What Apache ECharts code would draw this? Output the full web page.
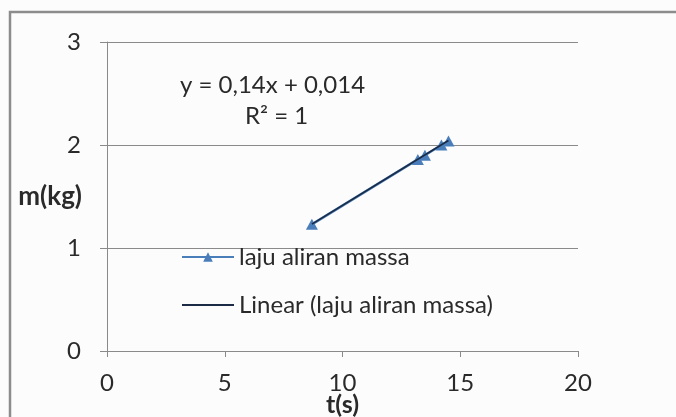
<!DOCTYPE html>
<html>
<head>
<meta charset="utf-8">
<script src="https://cdn.jsdelivr.net/npm/echarts@6/dist/echarts.min.js"></script>
<style>
  html, body { margin: 0; padding: 0; background: #fcfcfc; overflow: hidden; }
  #chart { width: 676px; height: 417px; }
</style>
</head>
<body>
<div id="chart"></div>
<script>
// Measured flow: time (s) vs accumulated mass (kg)
const timeS = [8.7, 13.2, 13.5, 14.2, 14.5];
const massKg = [1.23, 1.86, 1.90, 2.00, 2.04];

// Linear trendline coefficients as printed on the chart
const slope = 0.14;
const intercept = 0.014;

const xTicks = [0, 5, 10, 15, 20];
const yTicks = [0, 1, 2, 3];

const seriesName = 'laju aliran massa';
const trendName = 'Linear (laju aliran massa)';

const points = timeS.map((t, i) => [t, massKg[i]]);
const tStart = Math.min(...timeS);
const tEnd = Math.max(...timeS);
const trend = [tStart, tEnd].map(t => [t, slope * t + intercept]);

const font = 'Lato, "Open Sans", sans-serif';
const axisGrey = '#8a8a8a';
const frameGrey = '#8c8c8c';
const textColor = '#2a2a2a';

const chart = echarts.init(document.getElementById('chart'), null, {
  renderer: 'canvas', width: 676, height: 417
});
chart.setOption({
  backgroundColor: '#fcfcfc',
  animation: false,
  grid: { left: 107, right: 98, top: 42, bottom: 66, containLabel: false, outerBoundsMode: 'none' },
  xAxis: {
    type: 'value',
    min: xTicks[0],
    max: xTicks[xTicks.length - 1],
    interval: 5,
    name: 't(s)',
    nameLocation: 'middle',
    nameGap: 41,
    nameMoveOverlap: false,
    nameTextStyle: { fontFamily: font, fontWeight: 'bold', fontSize: 25, color: textColor, verticalAlign: 'top' },
    axisLine: { show: true, onZero: false, lineStyle: { color: axisGrey, width: 1 } },
    axisTick: { show: true, length: 6, lineStyle: { color: axisGrey } },
    axisLabel: { margin: 20, fontFamily: font, fontSize: 24, color: textColor },
    splitLine: { show: false }
  },
  yAxis: {
    type: 'value',
    min: yTicks[0],
    max: yTicks[yTicks.length - 1],
    interval: 1,
    name: 'm(kg)',
    nameLocation: 'middle',
    nameRotate: 0,
    nameGap: 25,
    nameMoveOverlap: false,
    nameTextStyle: { fontFamily: font, fontWeight: 'bold', fontSize: 26, color: textColor, align: 'right', verticalAlign: 'middle' },
    axisLine: { show: true, onZero: false, lineStyle: { color: axisGrey, width: 1 } },
    axisTick: { show: true, length: 7, lineStyle: { color: axisGrey } },
    axisLabel: { margin: 26, fontFamily: font, fontSize: 24, color: textColor },
    splitLine: { show: true, lineStyle: { color: axisGrey, width: 1 } }
  },
  legend: {
    orient: 'vertical',
    left: 176,
    top: 240,
    itemWidth: 52,
    itemHeight: 12,
    itemGap: 24,
    textStyle: { fontFamily: font, fontSize: 24, color: textColor },
    data: [
      { name: seriesName },
      // trendline entry: plain line, no marker
      { name: trendName, itemStyle: { opacity: 0 } }
    ]
  },
  graphic: [
    // chart frame: left and top edges, running off the right/bottom of the canvas
    {
      type: 'polyline', silent: true,
      shape: { points: [[10, 430], [10, 12], [700, 12]] },
      style: { stroke: frameGrey, lineWidth: 2.5, fill: null }
    },
    {
      type: 'text',
      left: 180, top: 73,
      style: { text: 'y = 0,14x + 0,014', font: '24px ' + font, fill: textColor }
    },
    {
      type: 'text',
      left: 245, top: 104,
      style: { text: 'R² = 1', font: '24px ' + font, fill: textColor }
    }
  ],
  series: [
    {
      name: seriesName,
      type: 'line',
      data: points,
      symbol: 'triangle',
      symbolSize: [12, 11],
      showSymbol: true,
      lineStyle: { color: '#4a7ebb', width: 2.5 },
      itemStyle: { color: '#4a7ebb' },
      z: 2
    },
    {
      name: trendName,
      type: 'line',
      data: trend,
      showSymbol: false,
      symbol: 'none',
      lineStyle: { color: '#1b2b45', width: 1.6 },
      itemStyle: { color: '#1b2b45' },
      z: 3
    }
  ]
});
</script>
</body>
</html>
